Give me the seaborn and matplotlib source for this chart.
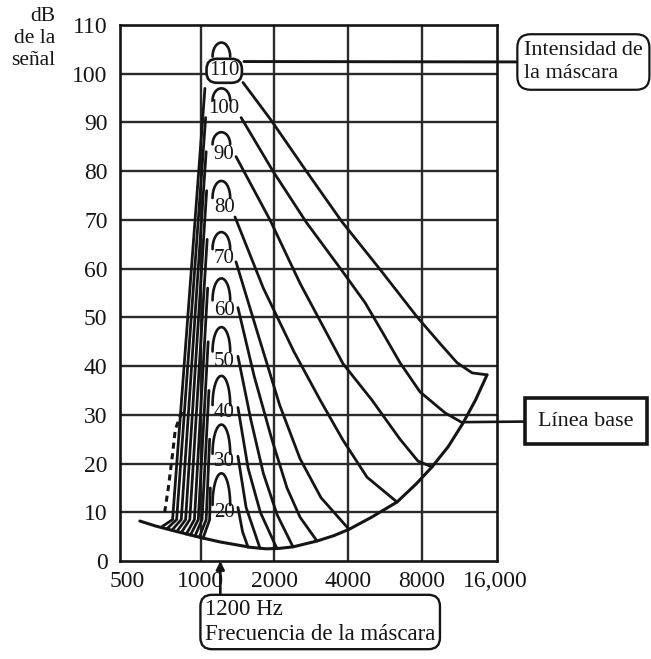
import numpy as np
import pandas as pd
import matplotlib
matplotlib.use("Agg")
import matplotlib.pyplot as plt
import seaborn as sns
from matplotlib.ticker import NullLocator

# masker levels (dB) for each curve
levels = [20, 30, 40, 50, 60, 70, 80, 90, 100, 110]

# baseline (threshold in quiet)
base_f = [562, 650, 747, 880, 1019, 1200, 1404, 1600, 1850, 2100, 2381, 2986,
          3500, 4039, 5000, 6350, 7600, 8831, 10300, 11830, 13300, 14840]
base_db = [8.2, 7.2, 6.4, 5.5, 4.7, 3.9, 3.3, 2.8, 2.5, 2.6, 2.9, 4.1,
           5.2, 6.5, 9.0, 12.1, 15.8, 19.3, 23.5, 28.3, 33.0, 38.2]

# high-frequency side of each masking curve
hi_20_f, hi_20_db = [1417, 1480, 1560], [11, 6, 2.8]
hi_30_f, hi_30_db = [1417, 1530, 1745], [21.5, 11, 2.6]
hi_40_f, hi_40_db = [1417, 1560, 1750, 2048], [31.5, 19, 10, 2.5]
hi_50_f, hi_50_db = [1417, 1600, 1800, 2050, 2381], [42, 29, 18, 9.5, 2.9]
hi_60_f, hi_60_db = [1417, 1650, 1950, 2250, 2544, 2986], [52, 38, 25, 15, 9, 4.1]
hi_70_f, hi_70_db = [1391, 1700, 2100, 2544, 3100, 4039], [61.4, 47, 32, 21, 13, 6.5]
hi_80_f = [1378, 1800, 2400, 3071, 3815, 4786, 6350]
hi_80_db = [70.6, 56, 43, 33.1, 24.8, 17.2, 12.1]
hi_90_f = [1391, 1917, 2544, 3815, 5017, 6530, 7738, 8831]
hi_90_db = [83, 70, 57, 40.5, 33, 25, 20.5, 19.3]
hi_100_f = [1460, 1972, 2700, 3815, 4700, 5600, 6530, 7890, 9990, 11830]
hi_100_db = [91.0, 80.0, 69.5, 59.3, 53.0, 46.5, 40.7, 34.7, 30.4, 28.3]
hi_110_f = [1486, 1935, 2700, 3780, 5400, 7668, 9500, 11180, 12900, 14840]
hi_110_db = [98.2, 90.5, 80, 69.6, 59.9, 50.1, 44.7, 40.7, 38.6, 38.2]

# low-frequency side: foot on baseline, knee, top
low_foot_f = [1020, 985, 945, 905, 870, 830, 795, 760, 725, 690]
low_foot_db = [4.7, 4.9, 5.1, 5.3, 5.5, 5.8, 6.0, 6.3, 6.6, 7.0]
low_knee_f = [1085, 1050, 1010, 975, 940, 900, 865, 830, 795, 765]
low_knee_db = [8.5, 8.5, 8.5, 8.5, 8.5, 8.5, 8.5, 8.5, 8.5, 8.5]
low_top_f = [1092, 1085, 1078, 1070, 1065, 1060, 1055, 1050, 1045, 1038]
low_top_db = [15, 25, 35, 45, 56, 66, 76, 84, 91, 97]

# small peaks above the level labels
arc_center_f = 1212
arc_base_db = [11.5, 22, 32, 43, 53.5, 64, 74.5, 85.5, 94.5, 103.5]
arc_peak_db = [18, 28, 38, 48, 58, 67.5, 78, 88, 97, 106.4]

# level labels
label_f = 1245
label_db = [10, 20.5, 30.5, 41, 51.5, 62, 72.5, 83.4, 92.8, 100.6]

# dashed curve on the low side
dashed_f = [710, 735, 765, 785, 840]
dashed_db = [10, 15, 22, 27, 31]

x_ticks = [500, 1000, 2000, 4000, 8000, 16000]
x_ticklabels = ["500", "1000", "2000", "4000", "8000", "16,000"]
y_ticks = list(range(0, 111, 10))

sns.set_theme(style="white")
plt.rcParams["font.family"] = ["Liberation Serif", "DejaVu Serif"]

ink = "#151515"
fig = plt.figure(figsize=(6.51, 6.59), dpi=100)
ax = fig.add_axes([120 / 651, 1 - 561 / 659, 377 / 651, 536 / 659])
ax.set_xscale("log")
ax.set_xlim(466, 16300)
ax.set_ylim(0, 110)

# grid
for y in y_ticks[1:-1]:
    ax.axhline(y, color="#2a2a2a", lw=1.7, zorder=1)
for f in x_ticks[1:-1]:
    ax.axvline(f, color="#2a2a2a", lw=1.7, zorder=1)

# curves
hi_f = [hi_20_f, hi_30_f, hi_40_f, hi_50_f, hi_60_f, hi_70_f, hi_80_f, hi_90_f, hi_100_f, hi_110_f]
hi_db = [hi_20_db, hi_30_db, hi_40_db, hi_50_db, hi_60_db, hi_70_db, hi_80_db, hi_90_db, hi_100_db, hi_110_db]
rows = []
for lev, fs, ds in zip(levels, hi_f, hi_db):
    for f, d in zip(fs, ds):
        rows.append(("hi%d" % lev, f, d))
for i, lev in enumerate(levels):
    rows.append(("lo%d" % lev, low_foot_f[i], low_foot_db[i]))
    rows.append(("lo%d" % lev, low_knee_f[i], low_knee_db[i]))
    rows.append(("lo%d" % lev, low_top_f[i], low_top_db[i]))
curves = pd.DataFrame(rows, columns=["curve", "f", "db"])

sns.lineplot(data=curves, x="f", y="db", units="curve", estimator=None, sort=False,
             color=ink, lw=2.0, ax=ax, legend=False, zorder=3)
sns.lineplot(x=base_f, y=base_db, sort=False, color=ink, lw=2.2, ax=ax, zorder=3)
sns.lineplot(x=dashed_f, y=dashed_db, sort=False, color=ink, lw=2.2, ls=(0, (2, 1.5)),
             ax=ax, zorder=3)

# peaks (half ellipse in log-frequency)
t = np.linspace(0, np.pi, 25)
half_oct = 0.12
for b, p in zip(arc_base_db, arc_peak_db):
    ax.plot(arc_center_f * 2 ** (half_oct * np.cos(t)), b + (p - b) * np.sin(t),
            color=ink, lw=1.9, zorder=3)

# level labels
for lev, d in zip(levels, label_db):
    kw = {}
    if lev == 110:
        kw["bbox"] = dict(boxstyle="round,pad=0.12,rounding_size=0.5", fc="white", ec=ink, lw=1.9)
    ax.text(label_f, d, str(lev), ha="center", va="center", fontsize=15, color=ink,
            zorder=4, **kw)

# axes styling
ax.set_xticks(x_ticks)
ax.set_xticklabels(x_ticklabels)
ax.xaxis.set_minor_locator(NullLocator())
ax.set_yticks(y_ticks)
ax.tick_params(axis="both", length=0, labelsize=17, colors=ink)
ax.tick_params(axis="y", pad=9)
ax.tick_params(axis="x", pad=7)
ax.set_xlabel("")
ax.set_ylabel("")
for s in ax.spines.values():
    s.set_color(ink)
    s.set_linewidth(1.9)

# y axis title
fig.text(55 / 651, 1 - 7 / 659, "dB\nde la\nseñal", ha="right", va="top",
         multialignment="right", fontsize=15.5, color=ink, linespacing=1.2)

# annotations
ax.annotate("Intensidad de\nla máscara", xy=(1500, 102.5), xycoords="data",
            xytext=(524, 659 - 62), textcoords="figure pixels", ha="left", va="center",
            fontsize=16, color=ink, annotation_clip=False, linespacing=1.3,
            bbox=dict(boxstyle="round,pad=0.3,rounding_size=0.6", fc="white", ec=ink, lw=1.6),
            arrowprops=dict(arrowstyle="-", color=ink, lw=2.1, shrinkA=0, shrinkB=0))
ax.annotate("Línea base", xy=(12000, 28.5), xycoords="data",
            xytext=(586, 659 - 421), textcoords="figure pixels", ha="center", va="center",
            fontsize=16, color=ink, annotation_clip=False,
            bbox=dict(boxstyle="square,pad=0.6", fc="white", ec=ink, lw=2.6),
            arrowprops=dict(arrowstyle="-", color=ink, lw=1.9, shrinkA=0, shrinkB=0))
ax.annotate("", xy=(1200, 0), xytext=(1200, -7), xycoords="data", annotation_clip=False,
            arrowprops=dict(arrowstyle="-|>", color=ink, lw=1.9, mutation_scale=12,
                            shrinkA=0, shrinkB=0))
fig.text(205 / 651, 1 - 622 / 659, "1200 Hz\nFrecuencia de la máscara", ha="left",
         va="center", fontsize=16.5, color=ink, linespacing=1.2,
         bbox=dict(boxstyle="round,pad=0.2,rounding_size=0.5", fc="white", ec=ink, lw=1.7))

fig.savefig("out.png", dpi=100)
